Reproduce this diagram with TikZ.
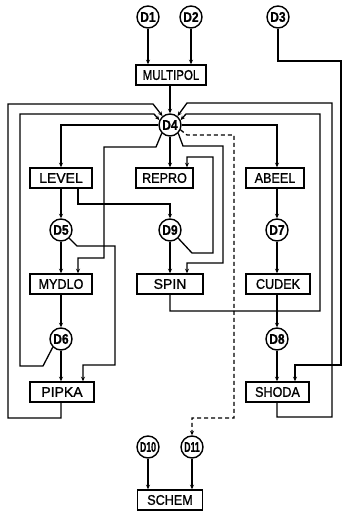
\documentclass[tikz,border=0pt]{standalone}
\usepackage{fontspec}
\setmainfont{Liberation Sans}[FakeBold=1.2]
\usetikzlibrary{arrows.meta}
\begin{document}
\begin{tikzpicture}[x=1pt,y=-1pt,
  every path/.style={line width=1.3pt},
  conn/.style={line width=1.3pt,-{Stealth[length=4.5pt,width=4pt]}},
  dnode/.style={circle,draw,line width=1.4pt,minimum size=22pt,inner sep=0pt,font=\bfseries\fontsize{14}{14}\selectfont},
  pbox/.style={rectangle,draw,line width=1.5pt,minimum height=20pt,inner sep=0pt,font=\fontsize{14}{14}\selectfont}]
\useasboundingbox (0,0) rectangle (342,513);
% nodes
\node[dnode] (D1) at (148,17) {\scalebox{0.85}[1]{D1}};
\node[dnode] (D2) at (191,17) {\scalebox{0.85}[1]{D2}};
\node[dnode] (D3) at (278,17) {\scalebox{0.85}[1]{D3}};
\node[pbox,minimum width=70pt] (MULTIPOL) at (171,75) {\scalebox{0.82}[1]{MULTIPOL}};
\node[dnode] (D4) at (170,125) {\scalebox{0.85}[1]{D4}};
\node[pbox,minimum width=62pt] (LEVEL) at (61,178) {LEVEL};
\node[pbox,minimum width=57pt] (REPRO) at (164.5,178) {\scalebox{0.9}[1]{REPRO}};
\node[pbox,minimum width=58pt] (ABEEL) at (275,178) {\scalebox{0.9}[1]{ABEEL}};
\node[dnode] (D5) at (61,230) {\scalebox{0.85}[1]{D5}};
\node[dnode] (D9) at (170,230) {\scalebox{0.85}[1]{D9}};
\node[dnode] (D7) at (277,230) {\scalebox{0.85}[1]{D7}};
\node[pbox,minimum width=62pt] (MYDLO) at (61,284) {\scalebox{0.9}[1]{MYDLO}};
\node[pbox,minimum width=66pt] (SPIN) at (170,284) {SPIN};
\node[pbox,minimum width=64pt] (CUDEK) at (278,284) {\scalebox{0.9}[1]{CUDEK}};
\node[dnode] (D6) at (61,339) {\scalebox{0.85}[1]{D6}};
\node[dnode] (D8) at (277,339) {\scalebox{0.85}[1]{D8}};
\node[pbox,minimum width=64pt] (PIPKA) at (62,392) {PIPKA};
\node[pbox,minimum width=63pt] (SHODA) at (277.5,392) {\scalebox{0.9}[1]{SHODA}};
\node[dnode] (D10) at (148,447) {\scalebox{0.62}[1]{D10}};
\node[dnode] (D11) at (192,447) {\scalebox{0.62}[1]{D11}};
\node[pbox,minimum width=65pt] (SCHEM) at (170,500) {\scalebox{0.9}[1]{SCHEM}};
% top
\draw[conn] (D1) -- (D1 |- MULTIPOL.north);
\draw[conn] (D2) -- (D2 |- MULTIPOL.north);
\draw[conn] (MULTIPOL.south -| D4) -- (D4);
% D4 outputs
\draw[conn] (D4.west) -| (LEVEL.north);
\draw[conn] (D4.east) -| (ABEEL.north -| D7);
\draw[conn] (D4.south) -- (REPRO.north -| D4);
\draw[conn] (D4.225) -- (156,147) -- (104,147) -- (104,258) -| (MYDLO.north -| 78,0);
\draw[conn] (D4.-45) -- (183,146) -- (223,146) -- (223,263) -| (SPIN.north -| 187,0);
\draw[conn,dashed,dash pattern=on 4pt off 3pt] (D4.-25) -- (187,135) -- (234,135) -- (234,418) -| (D11.north);
% left column
\draw[conn] (LEVEL.south) -- (D5);
\draw[conn] (LEVEL.south -| 78,0) -- (78,204) -| (D9.north);
\draw[conn] (D5) -- (MYDLO.north);
\draw[conn] (D5.-45) -- (77,246) -- (115,246) -- (115,365) -| (PIPKA.north -| 83,0);
\draw[conn] (MYDLO.south -| D6) -- (D6);
\draw[conn] (D6) -- (PIPKA.north -| D6);
\draw[conn] (D6.225) -- (43,366) -- (20,366) -- (20,114) -- (154,114) -- (D4.155);
\draw[conn] (PIPKA.south -| D6) -- (61,418) -- (8,418) -- (8,104) -- (153,104) -- (D4.130);
% middle column
\draw[conn] (D9) -- (SPIN.north -| D9);
\draw[conn] (D9.-45) -- (192,253) -- (213,253) -- (213,157) -| (REPRO.north -| 187,0);
\draw[conn] (SPIN.south) -- (170,311) -- (320,311) -- (320,114) -- (186,114) -- (D4.25);
% right column
\draw[conn] (ABEEL.south -| D7) -- (D7);
\draw[conn] (D7) -- (CUDEK.north -| D7);
\draw[conn] (CUDEK.south -| D8) -- (D8);
\draw[conn] (D8) -- (SHODA.north -| D8);
\draw[conn] (SHODA.south -| D8) -- (277,417) -- (332,417) -- (332,103) -- (187,103) -- (D4.50);
\draw[conn] (D3.south) -- (278,61) -- (341,61) -- (341,365) -| (SHODA.north -| 295,0);
% bottom
\draw[conn] (D10) -- (D10 |- SCHEM.north);
\draw[conn] (D11) -- (D11 |- SCHEM.north);
\end{tikzpicture}
\end{document}
